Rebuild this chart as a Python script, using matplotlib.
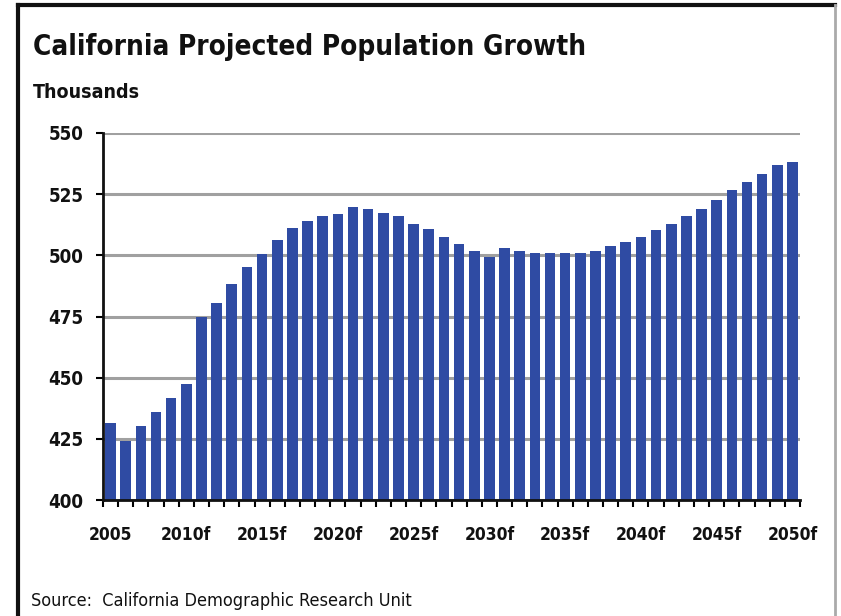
#!/usr/bin/env python3
"""California projected population growth, bar chart (thousands)."""

import matplotlib
matplotlib.use('Agg')
import matplotlib.pyplot as plt
from matplotlib.lines import Line2D

# years 2005 .. 2050, "f" = forecast
YEARS = list(range(2005, 2051))
VALUES = [
    431.4, 424.3, 430.3, 435.9, 441.7, 447.5, 474.7, 480.7, 488.4, 495.2,
    500.6, 506.4, 511.3, 514.1, 516.0, 517.0, 519.7, 518.9, 517.1, 516.2,
    513.0, 510.6, 507.5, 504.7, 501.9, 499.5, 502.8, 501.9, 500.8, 500.8,
    500.8, 500.8, 501.7, 503.9, 505.5, 507.5, 510.5, 513.0, 516.2, 518.9,
    522.7, 526.5, 529.8, 533.4, 537.0, 538.0,
]
TICK_LABELS = ['2005', '2010f', '2015f', '2020f', '2025f',
               '2030f', '2035f', '2040f', '2045f', '2050f']
Y_TICKS = [400, 425, 450, 475, 500, 525, 550]

BAR_COLOR = '#2f4ba3'
TXT = dict(family='DejaVu Sans', stretch='condensed', color='#111111')

W, H = 841, 616


def px(x, y):
    """pixel (from top-left) -> figure fraction"""
    return x / W, 1 - y / H


def main():
    fig = plt.figure(figsize=(W / 100, H / 100), dpi=100)
    fig.patch.set_facecolor('white')

    # frame: dark top/left edges, light right edge
    x0, y0 = px(18, 5)
    x1, y1 = px(835, H + 5)
    fig.add_artist(Line2D([x0, x1], [y0, y0], color='#111111', lw=3))
    fig.add_artist(Line2D([x0, x0], [y0, y1], color='#111111', lw=3))
    fig.add_artist(Line2D([x1, x1], [y0, y1], color='#aaaaaa', lw=2))

    ax = fig.add_axes([103 / W, 116 / H, (800 - 103) / W, (500 - 133) / H])

    x = list(range(len(YEARS)))
    ax.bar(x, VALUES, width=0.7, color=BAR_COLOR, zorder=3)

    ax.set_xlim(-0.5, len(YEARS) - 0.5)
    ax.set_ylim(400, 550)
    ax.set_yticks(Y_TICKS)
    ax.set_yticklabels([str(v) for v in Y_TICKS], fontsize=13.5,
                       fontweight='bold', **TXT)

    # tick marks between the bars, labels every 5 years
    ax.set_xticks([i - 0.5 for i in range(len(YEARS) + 1)], minor=True)
    ax.set_xticks([i for i in range(0, len(YEARS), 5)])
    ax.set_xticklabels(TICK_LABELS, fontsize=12.5, fontweight='bold', **TXT)
    ax.tick_params(axis='x', which='major', length=0, pad=19)
    ax.tick_params(axis='x', which='minor', length=5, width=1.5, direction='out')
    ax.tick_params(axis='y', length=5, width=1.5, pad=9)

    ax.grid(axis='y', color='#a0a0a0', linewidth=2.2, zorder=0)
    for side in ('top', 'right'):
        ax.spines[side].set_visible(False)
    for side in ('left', 'bottom'):
        ax.spines[side].set_linewidth(2)
        ax.spines[side].set_color('#111111')
        ax.spines[side].set_zorder(4)

    fig.text(*px(33, 47), 'California Projected Population Growth',
             fontsize=20, fontweight='bold', va='center', **TXT)
    fig.text(*px(33, 92), 'Thousands', fontsize=14, fontweight='bold',
             va='center', **TXT)
    fig.text(*px(31, 601), 'Source:  California Demographic Research Unit',
             fontsize=13, va='center', **TXT)

    fig.savefig('out.png', dpi=100)
    plt.close(fig)


if __name__ == '__main__':
    main()
